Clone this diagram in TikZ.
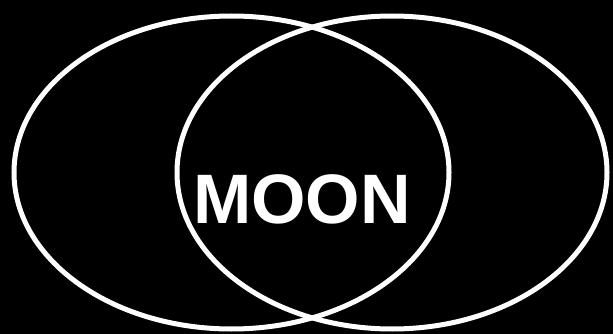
\documentclass[tikz,border=0pt]{standalone}
\usepackage{fontspec}
\setmainfont{Liberation Sans}
\usepackage{tikz}
\usetikzlibrary{shapes.geometric}

\begin{document}
\begin{tikzpicture}[
    x=1pt,y=-1pt,
    every node/.style={inner sep=0pt, outer sep=0pt},
    ring/.style={ellipse, draw=white, line width=5pt, minimum height=313pt}
]
    \fill[black] (0,0) rectangle (613,334);
    \useasboundingbox (0,0) rectangle (613,334);

    \node[ring, minimum width=435pt] (left)  at (231.5,172.5) {};
    \node[ring, minimum width=430pt] (right) at (392,172.5)   {};

    \node[anchor=base, text=white, font=\fontsize{70}{72}\selectfont\bfseries] (moon) at (302,223) {MOON};
\end{tikzpicture}
\end{document}
